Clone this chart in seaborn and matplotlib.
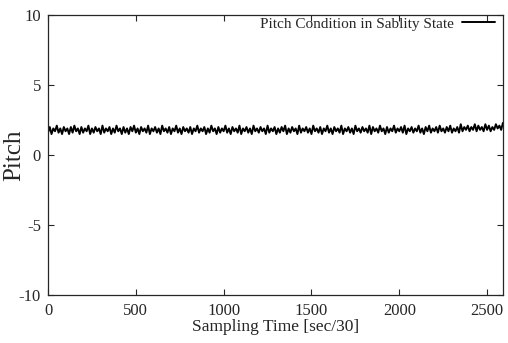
import matplotlib
matplotlib.use("Agg")
import matplotlib.pyplot as plt
import seaborn as sns
import numpy as np
import pandas as pd

# pitch every 10 samples (0 .. 2590)
pitch = [
    1.6, 2.0, 1.5, 1.9, 1.7, 2.1, 1.6, 1.9, 1.5, 2.0, 1.7, 1.9, 1.5, 2.0, 1.6, 2.1, 1.7, 1.9, 1.5, 2.0,
    1.6, 1.9, 1.7, 2.1, 1.5, 1.9, 1.6, 2.0, 1.7, 1.9, 1.5, 2.1, 1.6, 1.9, 1.7, 2.0, 1.5, 1.9, 1.6, 2.1,
    1.7, 1.9, 1.5, 2.0, 1.6, 1.9, 1.5, 2.0, 1.7, 2.1, 1.6, 1.9, 1.5, 2.0, 1.7, 1.9, 1.6, 2.1, 1.5, 1.9,
    1.7, 2.0, 1.6, 1.9, 1.5, 2.1, 1.7, 1.9, 1.6, 2.0, 1.5, 1.9, 1.7, 2.1, 1.6, 1.9, 1.5, 2.0, 1.7, 1.9,
    1.6, 2.0, 1.5, 1.9, 1.7, 2.1, 1.6, 1.9, 1.7, 2.0, 1.5, 1.9, 1.6, 2.1, 1.7, 1.9, 1.5, 2.0, 1.6, 1.9,
    1.7, 2.1, 1.6, 1.9, 1.5, 2.0, 1.7, 1.9, 1.6, 2.1, 1.5, 1.9, 1.7, 2.0, 1.6, 1.9, 1.5, 2.1, 1.7, 1.9,
    1.6, 2.0, 1.7, 1.9, 1.5, 2.1, 1.6, 1.9, 1.7, 2.0, 1.5, 1.9, 1.6, 2.0, 1.7, 2.1, 1.5, 1.9, 1.6, 2.0,
    1.7, 1.9, 1.5, 2.1, 1.6, 1.9, 1.7, 2.0, 1.6, 1.9, 1.5, 2.1, 1.7, 1.9, 1.6, 2.0, 1.5, 1.9, 1.7, 2.1,
    1.6, 1.9, 1.5, 2.0, 1.7, 1.9, 1.6, 2.1, 1.5, 1.9, 1.7, 2.0, 1.6, 1.9, 1.5, 2.1, 1.7, 1.9, 1.6, 2.0,
    1.7, 1.9, 1.6, 2.1, 1.5, 2.0, 1.7, 1.9, 1.6, 2.1, 1.7, 1.9, 1.5, 2.0, 1.6, 1.9, 1.7, 2.1, 1.6, 1.9,
    1.7, 2.0, 1.6, 2.1, 1.5, 1.9, 1.7, 2.0, 1.6, 1.9, 1.7, 2.1, 1.6, 1.9, 1.5, 2.0, 1.7, 2.1, 1.6, 1.9,
    1.7, 2.0, 1.6, 2.1, 1.7, 1.9, 1.6, 2.0, 1.7, 2.1, 1.6, 1.9, 1.7, 2.0, 1.6, 2.2, 1.7, 2.0, 1.8, 2.1,
    1.7, 2.0, 1.8, 2.2, 1.7, 2.1, 1.8, 2.0, 1.7, 2.2, 1.8, 2.1, 1.7, 2.0, 1.8, 2.2, 1.9, 2.1, 1.8, 2.3,
]
sample = np.arange(len(pitch)) * 10

xticks = [0, 500, 1000, 1500, 2000, 2500]
yticks = [-10, -5, 0, 5, 10]

df = pd.DataFrame({"Sampling Time": sample, "Pitch": pitch})

sns.set_style("ticks")
plt.rcParams["font.family"] = ["Liberation Serif", "DejaVu Serif"]
plt.rcParams["axes.unicode_minus"] = False

fig, ax = plt.subplots(figsize=(5.08, 3.43), dpi=100)
sns.lineplot(data=df, x="Sampling Time", y="Pitch", color="black", linewidth=1.4,
             label="Pitch Condition in Sablity State", ax=ax)

ax.set_xlim(0, 2590)
ax.set_ylim(-10, 10)
ax.set_xticks(xticks)
ax.set_yticks(yticks)
ax.tick_params(direction="in", top=True, right=True, length=4, labelsize=12)
ax.tick_params(axis="x", pad=6)
ax.tick_params(axis="y", pad=5)
for s in ax.spines.values():
    s.set_linewidth(0.9)
    s.set_visible(True)

ax.set_xlabel("Sampling Time [sec/30]", fontsize=12.5, labelpad=0)
ax.set_ylabel("Pitch", fontsize=18)
ax.yaxis.set_label_coords(-0.05, 0.5)

ax.legend(loc="upper right", bbox_to_anchor=(1.0, 1.021), frameon=False, markerfirst=False,
          fontsize=11, handlelength=2.2, borderaxespad=0.1, handletextpad=0.5)

fig.subplots_adjust(left=0.0945, right=0.99, top=0.956, bottom=0.14)
fig.savefig("out.png", dpi=100)
